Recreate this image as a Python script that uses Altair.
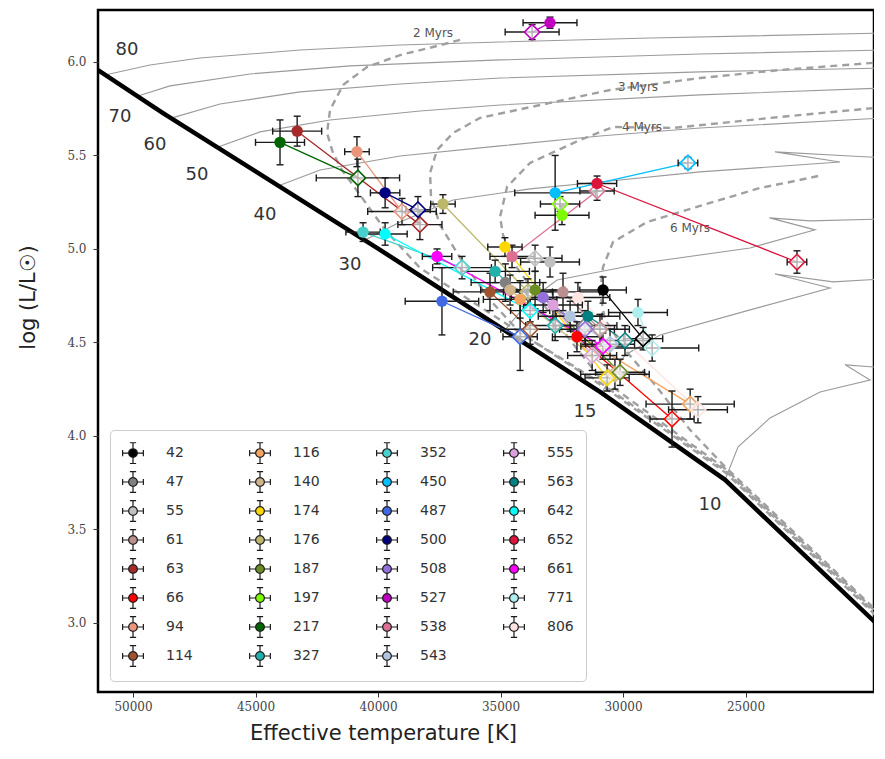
import altair as alt
import pandas as pd

# ---------------- axis ranges ----------------
T_LEFT, T_RIGHT = 51429, 19756
L_BOTTOM, L_TOP = 2.63, 6.278
x_ticks = [25000, 30000, 35000, 40000, 45000, 50000]
y_ticks = [3.0, 3.5, 4.0, 4.5, 5.0, 5.5, 6.0]

# ---------------- ZAMS ----------------
zams_T = [51429, 48776, 39917, 30937, 25835, 19303]
zams_L = [5.957, 5.727, 4.995, 4.235, 3.765, 2.952]

# ---------------- evolutionary tracks ----------------
track_masses = ["80", "70", "60", "50", "40", "30", "20", "15", "10"]
track_T = {
    "80": [51143, 49306, 47265, 43183, 39101, 35019, 28896, 19303],
    "70": [49796, 48490, 45224, 41142, 35019, 26855, 19303],
    "60": [48408, 46449, 43183, 39101, 35019, 26855, 19303],
    "50": [46530, 44816, 41958, 38285, 35019, 26855, 19303],
    "40": [44081, 42367, 39101, 35019, 30937, 26855, 19303],
    "30": [40530, 39101, 36938, 33794, 30937, 26855, 21140, 23793, 20732, 19303],
    "20": [34815, 33794, 32692, 28896, 24814, 22160, 24018, 22364, 19303],
    "15": [30855, 29916, 28488, 24814, 21548, 23794, 21427, 19303],
    "10": [25835, 25304, 23998, 21957, 19915, 20936, 19303],
}
track_L = {
    "80": [5.930, 5.984, 6.021, 6.064, 6.091, 6.107, 6.128, 6.155],
    "70": [5.818, 5.872, 5.936, 5.979, 6.011, 6.043, 6.064],
    "60": [5.701, 5.775, 5.840, 5.882, 5.914, 5.947, 5.968],
    "50": [5.545, 5.626, 5.690, 5.738, 5.770, 5.824, 5.861],
    "40": [5.337, 5.422, 5.497, 5.551, 5.604, 5.647, 5.701],
    "30": [5.048, 5.144, 5.262, 5.321, 5.358, 5.412, 5.465, 5.519, 5.497, 5.487],
    "20": [4.567, 4.727, 4.834, 4.930, 5.005, 5.102, 5.166, 5.150, 5.160],
    "15": [4.235, 4.433, 4.540, 4.674, 4.791, 4.866, 4.824, 4.840],
    "10": [3.765, 3.941, 4.096, 4.235, 4.299, 4.380, 4.364],
}
mass_label_T = [50245, 50531, 49102, 47388, 44612, 41142, 35835, 31549, 26447]
mass_label_L = [6.064, 5.706, 5.556, 5.396, 5.182, 4.914, 4.513, 4.128, 3.631]

# ---------------- isochrones ----------------
iso_names = ["2 Myrs", "3 Myrs", "4 Myrs", "6 Myrs"]
iso_T = {
    "2 Myrs": [36652, 37754, 39101, 40448, 41428, 41958, 42081, 41836, 41469, 40734,
               39713, 38285, 30937, 25835, 19303],
    "3 Myrs": [19303, 23589, 26855, 28365, 30529, 32978, 35835, 36938, 37591, 37876,
               37836, 37468, 36652, 35427, 34202, 30937, 25835, 19303],
    "4 Myrs": [19303, 23589, 27957, 30407, 31753, 33794, 34733, 35019, 34897, 34407,
               33386, 32162, 30937, 25835, 19303],
    "6 Myrs": [22037, 23180, 24406, 26039, 27386, 29019, 30407, 30815, 30937, 30733,
               29916, 28692, 27263, 25835, 19303],
}
iso_L = {
    "2 Myrs": [6.118, 6.080, 6.037, 5.973, 5.877, 5.743, 5.620, 5.513, 5.422, 5.289,
               5.102, 4.898, 4.275, 3.805, 2.992],
    "3 Myrs": [6.000, 5.957, 5.914, 5.888, 5.850, 5.781, 5.701, 5.620, 5.529, 5.406,
               5.278, 5.128, 4.952, 4.727, 4.551, 4.285, 3.815, 3.002],
    "4 Myrs": [5.759, 5.706, 5.647, 5.652, 5.583, 5.460, 5.332, 5.171, 5.075, 4.914,
               4.727, 4.513, 4.310, 3.825, 3.012],
    "6 Myrs": [5.390, 5.358, 5.326, 5.262, 5.209, 5.144, 5.037, 4.904, 4.765, 4.620,
               4.460, 4.273, 4.032, 3.835, 3.022],
}
iso_label_T = [37754, 29386, 29223, 27263]
iso_label_L = [6.155, 5.866, 5.652, 5.112]

# ---------------- stars ----------------
star_ids = ["42", "47", "55", "61", "63", "66", "94", "114", "116", "140", "174", "176",
            "187", "197", "217", "327", "352", "450", "487", "500", "508", "527", "538",
            "543", "555", "563", "642", "652", "661", "771", "806"]
star_colors = ["#000000", "#808080", "#c0c0c0", "#bc8f8f", "#a52a2a", "#ff0000", "#e9967a",
               "#a0522d", "#f4a460", "#d2b48c", "#ffd700", "#bdb76b", "#6b8e23", "#7cfc00",
               "#006400", "#20b2aa", "#48d1cc", "#00bfff", "#4169e1", "#000080", "#9370db",
               "#bf00bf", "#db7093", "#b0c4de", "#dda0dd", "#008080", "#00ffff", "#dc143c",
               "#ff00ff", "#afeeee", "#ffe4e1"]
circ_T = [30815, 34800, 32980, 32450, 43300, 31880, 40860, 35430, 34200, 34610, 34820, 37350,
          33590, 32490, 44000, 35220, 40610, 32770, 37390, 39710, 33260, 32980, 34530,
          32160, 32860, 31430, 39710, 31060, 37590, 29390, 31840]
circ_L = [4.78, 4.82, 4.93, 4.77, 5.63, 4.53, 5.52, 4.77, 4.73, 4.78, 5.01, 5.24,
          4.78, 5.18, 5.57, 4.88, 5.09, 5.30, 4.72, 5.30, 4.74, 6.21, 4.96,
          4.64, 4.70, 4.64, 5.08, 5.35, 4.96, 4.66, 4.74]
circ_eT = [950, 1400, 1200, 1500, 1000, 1000, 500, 1500, 1500, 1200, 700, 500,
           1200, 1100, 1000, 1400, 700, 1650, 1500, 600, 1300, 1100, 900,
           1300, 1200, 1300, 900, 800, 600, 1200, 1300]
circ_eL = [0.07, 0.10, 0.08, 0.10, 0.08, 0.08, 0.08, 0.10, 0.10, 0.08, 0.05, 0.05,
           0.10, 0.05, 0.12, 0.06, 0.05, 0.20, 0.18, 0.08, 0.08, 0.03, 0.06,
           0.08, 0.08, 0.08, 0.06, 0.04, 0.04, 0.07, 0.08]
diam_T = [29180, 31550, 33590, 30940, 38290, 28000, 39020, 33790, 27260, 30330, 30650, 33880,
          30120, 32570, 40820, 32770, 36570, 27350, 34200, 38370, 31550, 33710, 31060,
          30530, 31260, 29920, 33790, 22900, 30820, 28810, 26940]
diam_L = [4.52, 4.59, 4.95, 4.57, 5.13, 4.09, 5.20, 4.57, 4.17, 4.33, 4.31, 4.77,
          4.34, 5.24, 5.38, 4.59, 4.90, 5.46, 4.53, 5.21, 4.57, 6.16, 5.31,
          4.49, 4.43, 4.51, 4.67, 4.93, 4.48, 4.47, 4.14]
diam_eT = [800, 1300, 1100, 1200, 900, 900, 1400, 1200, 1800, 1400, 900, 1000,
           1000, 800, 1700, 1200, 1200, 400, 700, 500, 1200, 1100, 700,
           1000, 1000, 1000, 800, 400, 900, 1900, 1200]
diam_eL = [0.06, 0.08, 0.07, 0.08, 0.08, 0.15, 0.07, 0.08, 0.08, 0.08, 0.07, 0.07,
           0.07, 0.04, 0.10, 0.08, 0.06, 0.03, 0.18, 0.07, 0.08, 0.04, 0.05,
           0.08, 0.08, 0.08, 0.06, 0.06, 0.07, 0.07, 0.07]

# ---------------- tables ----------------
zams_df = pd.DataFrame({"T": zams_T, "L": zams_L, "o": range(len(zams_T))})
tr_rows = []
for m in track_masses:
    for i, (t, l) in enumerate(zip(track_T[m], track_L[m])):
        tr_rows.append({"mass": m, "T": t, "L": l, "o": i})
tracks_df = pd.DataFrame(tr_rows)
iso_rows = []
for n in iso_names:
    for i, (t, l) in enumerate(zip(iso_T[n], iso_L[n])):
        iso_rows.append({"iso": n, "T": t, "L": l, "o": i})
iso_df = pd.DataFrame(iso_rows)
mass_lab_df = pd.DataFrame({"T": mass_label_T, "L": mass_label_L, "txt": track_masses})
iso_lab_df = pd.DataFrame({"T": iso_label_T, "L": iso_label_L, "txt": iso_names})

circ_df = pd.DataFrame({"id": star_ids, "T": circ_T, "L": circ_L, "eT": circ_eT, "eL": circ_eL, "o": 0})
diam_df = pd.DataFrame({"id": star_ids, "T": diam_T, "L": diam_L, "eT": diam_eT, "eL": diam_eL, "o": 1})
pts_df = pd.concat([circ_df, diam_df], ignore_index=True)
pts_df["Tlo"] = pts_df["T"] - pts_df["eT"]
pts_df["Thi"] = pts_df["T"] + pts_df["eT"]
pts_df["Llo"] = pts_df["L"] - pts_df["eL"]
pts_df["Lhi"] = pts_df["L"] + pts_df["eL"]
capv_df = pd.concat([
    pd.DataFrame({"T": pts_df["Tlo"], "L": pts_df["L"]}),
    pd.DataFrame({"T": pts_df["Thi"], "L": pts_df["L"]}),
], ignore_index=True)
caph_df = pd.concat([
    pd.DataFrame({"T": pts_df["T"], "L": pts_df["Llo"]}),
    pd.DataFrame({"T": pts_df["T"], "L": pts_df["Lhi"]}),
], ignore_index=True)

# ---------------- encodings ----------------
XT = "Effective temperature [K]"
YT = "log (L/L\u2609)"
xs = alt.Scale(domain=[T_RIGHT, T_LEFT], reverse=True, nice=False, zero=False)
ys = alt.Scale(domain=[L_BOTTOM, L_TOP], nice=False, zero=False)
xaxis = alt.Axis(values=x_ticks, format="d", labelFont="DejaVu Serif", labelFontSize=12,
                 labelColor="#444", tickSize=5, tickColor="#333", labelPadding=4,
                 titleFont="DejaVu Sans", titleFontSize=21, titleFontWeight="normal",
                 titleColor="#222", titlePadding=10, titleX=285, titleAlign="center",
                 domain=False, grid=False)
yaxis = alt.Axis(values=y_ticks, format=".1f", labelFont="DejaVu Serif", labelFontSize=12,
                 labelColor="#444", tickSize=5, tickColor="#333", labelPadding=7,
                 titleFont="DejaVu Sans", titleFontSize=21, titleFontWeight="normal",
                 titleColor="#222", titlePadding=28, titleY=287, titleAlign="center",
                 domain=False, grid=False)


def X(f):
    return alt.X(f + ":Q", scale=xs, axis=xaxis, title=XT)


def Y(f):
    return alt.Y(f + ":Q", scale=ys, axis=yaxis, title=YT)


cscale = alt.Scale(domain=star_ids, range=star_colors)
sym_path = ("M-1,0L-0.42,0M0.42,0L1,0M0,-1L0,-0.42M0,0.42L0,1"
            "M-1,-0.3L-1,0.3M1,-0.3L1,0.3M-0.3,-1L0.3,-1M-0.3,1L0.3,1"
            "M0.42,0A0.42,0.42,0,1,1,-0.42,0A0.42,0.42,0,1,1,0.42,0Z")
legend = alt.Legend(title=None, orient="none", legendX=12, legendY=420, columns=4,
                    direction="vertical", symbolLimit=40,
                    symbolType=sym_path, symbolSize=430, symbolStrokeColor="#1a1a1a",
                    symbolStrokeWidth=1.2, symbolOpacity=1, labelFont="DejaVu Sans",
                    labelFontSize=14, labelColor="#333", labelOffset=22, columnPadding=54,
                    rowPadding=3, gridAlign="all", padding=12, fillColor="white",
                    strokeColor="#cccccc", cornerRadius=4)

tracks = alt.Chart(tracks_df).mark_line(color="#9a9a9a", strokeWidth=1.1, clip=True).encode(
    x=X("T"), y=Y("L"), detail="mass:N", order="o:Q")
isos = alt.Chart(iso_df).mark_line(color="#a0a0a0", strokeWidth=2.4, strokeDash=[7, 5], clip=True).encode(
    x=X("T"), y=Y("L"), detail="iso:N", order="o:Q")
zams = alt.Chart(zams_df).mark_line(color="black", strokeWidth=4.5, clip=True).encode(
    x=X("T"), y=Y("L"), order="o:Q")
mass_labels = alt.Chart(mass_lab_df).mark_text(font="DejaVu Sans", fontSize=18, color="#333").encode(
    x=X("T"), y=Y("L"), text="txt:N")
iso_labels = alt.Chart(iso_lab_df).mark_text(font="DejaVu Sans", fontSize=12, color="#555").encode(
    x=X("T"), y=Y("L"), text="txt:N")
links = alt.Chart(pts_df).mark_line(strokeWidth=1.3).encode(
    x=X("T"), y=Y("L"), detail="id:N", order="o:Q",
    color=alt.Color("id:N", scale=cscale, legend=None))
err_x = alt.Chart(pts_df).mark_rule(color="#1a1a1a", strokeWidth=1.4).encode(
    x=X("Tlo"), x2="Thi:Q", y=Y("L"))
err_y = alt.Chart(pts_df).mark_rule(color="#1a1a1a", strokeWidth=1.4).encode(
    x=X("T"), y=Y("Llo"), y2="Lhi:Q")
cap_v = alt.Chart(capv_df).mark_tick(orient="vertical", size=7, thickness=1.4, color="#1a1a1a",
                                     opacity=1).encode(x=X("T"), y=Y("L"))
cap_h = alt.Chart(caph_df).mark_tick(orient="horizontal", size=7, thickness=1.4, color="#1a1a1a",
                                     opacity=1).encode(x=X("T"), y=Y("L"))
diamonds = alt.Chart(diam_df).mark_point(shape="diamond", filled=False, fill="white", fillOpacity=0.65,
                                         size=240, strokeWidth=1.6, opacity=1).encode(
    x=X("T"), y=Y("L"), color=alt.Color("id:N", scale=cscale, legend=None))
circles = alt.Chart(circ_df).mark_circle(size=130, opacity=1).encode(
    x=X("T"), y=Y("L"), color=alt.Color("id:N", scale=cscale, legend=legend))

chart = alt.layer(
    tracks, isos, zams, mass_labels, iso_labels, links, err_x, err_y, cap_v, cap_h, diamonds, circles
).resolve_legend(color="independent").properties(
    width=776, height=682,
    padding={"left": 9, "top": 2, "right": 0, "bottom": 5},
    background="white",
).configure_view(stroke="black", strokeWidth=2.5)

chart.save("out.html", embed_options={"renderer": "svg", "actions": False})
